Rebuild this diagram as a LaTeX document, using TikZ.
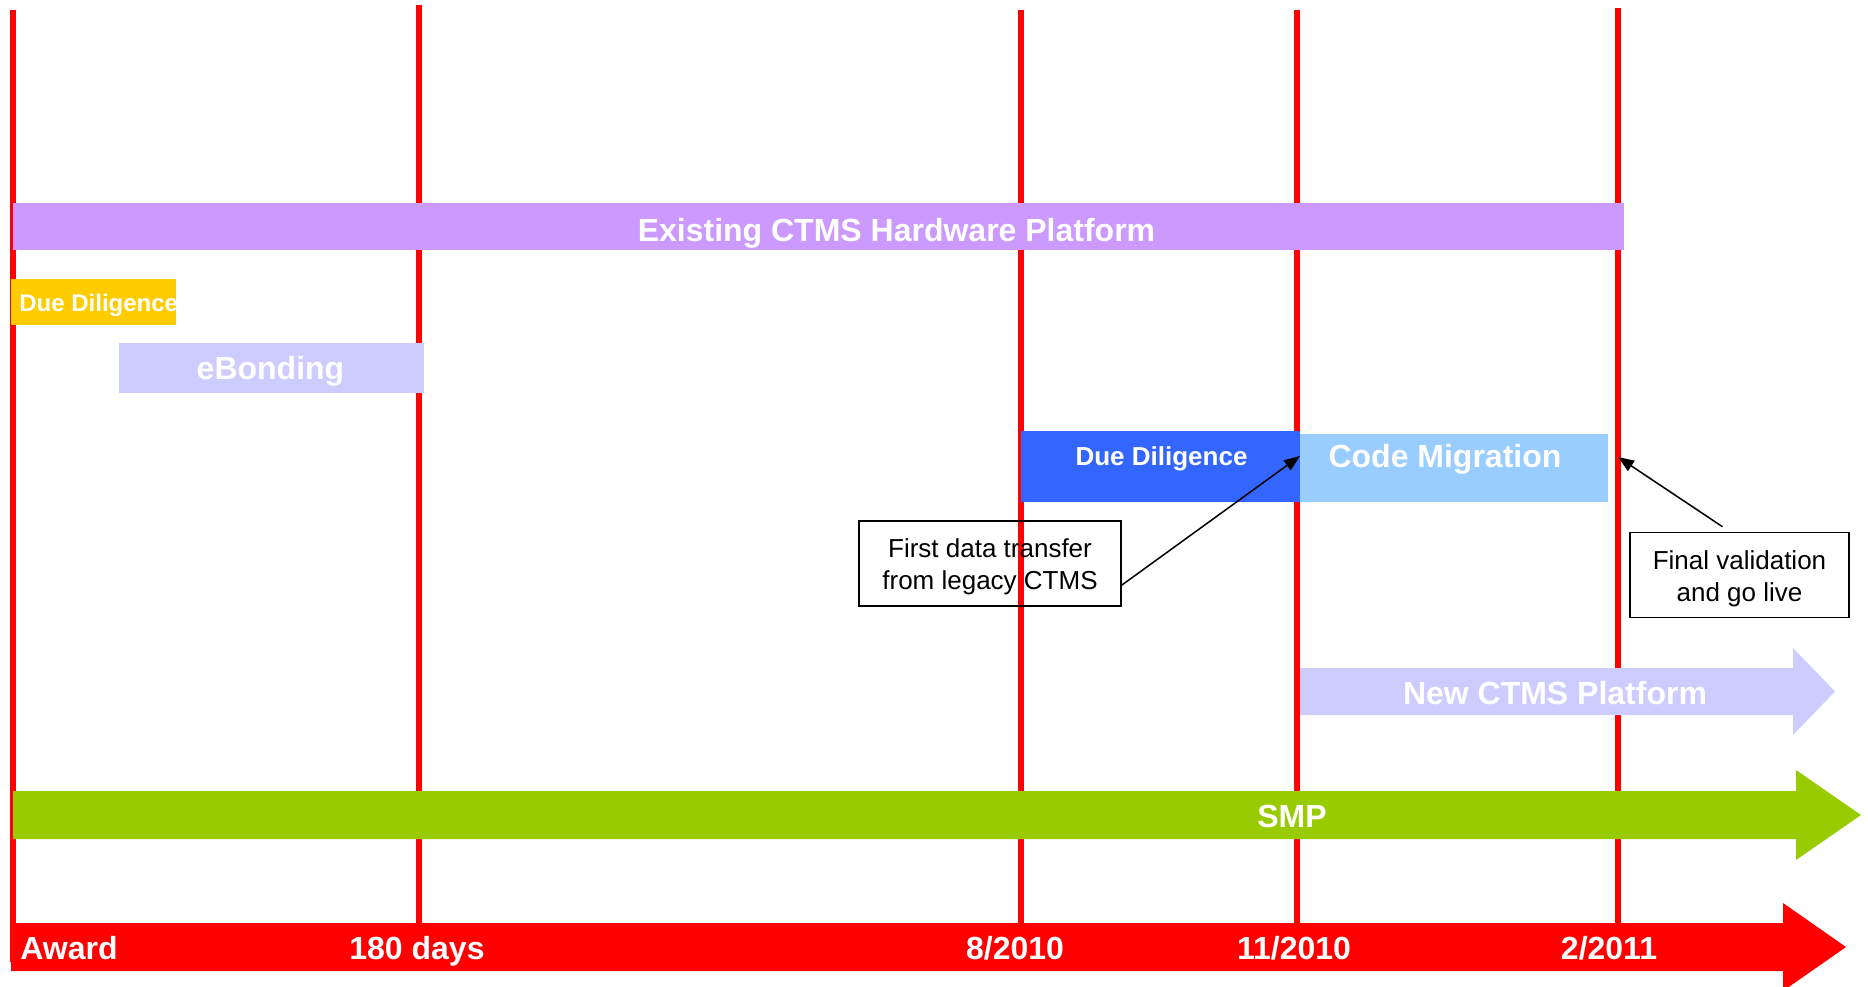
\documentclass[tikz,border=0pt]{standalone}
\usepackage{fontspec}
\setmainfont{Liberation Sans}
\usetikzlibrary{arrows.meta,calc}
\definecolor{tlred}{HTML}{FF0000}
\definecolor{hwpurple}{HTML}{CC99FF}
\definecolor{ddyellow}{HTML}{FFCC00}
\definecolor{lavender}{HTML}{CCCCFF}
\definecolor{ddblue}{HTML}{3366FF}
\definecolor{skyblue}{HTML}{99CCFF}
\definecolor{smpgreen}{HTML}{99CC00}
\begin{document}
\begin{tikzpicture}[x=0.5pt,y=-0.5pt,
  milestone/.style={draw=tlred, line width=3pt},
  barlabel/.style={text=white, font=\bfseries\fontsize{16}{19}\selectfont, inner sep=0pt, anchor=base},
  smalllabel/.style={barlabel, font=\bfseries\fontsize{13}{16}\selectfont},
  callout/.style={draw=black, line width=0.75pt, fill=none, inner sep=0pt, minimum height=42.5pt},
  callouttext/.style={align=center, font=\fontsize{13}{16}\selectfont, inner sep=0pt},
  pointer/.style={draw=black, line width=0.75pt, -{Triangle[length=8pt,width=6pt]}}]
\useasboundingbox (0,0) rectangle (1868,986);

% milestone lines
\draw[milestone] (13,10) -- (13,962);
\foreach \x/\t in {419/5, 1021/10, 1297/10, 1618/8}
  \draw[milestone] (\x,\t) -- (\x,923);

% activity bars
\fill[hwpurple] (13,203) rectangle (1624,250);
\fill[ddyellow] (11,279) rectangle (176,325);
\fill[lavender] (119,343) rectangle (424,393);
\fill[ddblue] (1021,431) rectangle (1300,502);
\fill[skyblue] (1300,434) rectangle (1608,502);

% platform arrows
\fill[lavender] (1300,668) -- (1793,668) -- (1793,648) -- (1835,691.5)
  -- (1793,735) -- (1793,715) -- (1300,715) -- cycle;
\fill[smpgreen] (13,791) -- (1796,791) -- (1796,770) -- (1861,815)
  -- (1796,860) -- (1796,839) -- (13,839) -- cycle;

% time axis
\fill[tlred] (11,923) -- (1783,923) -- (1783,903) -- (1846,947)
  -- (1783,991) -- (1783,971) -- (11,971) -- cycle;

% bar labels
\node[barlabel] (hw) at (896.5,241.5) {Existing CTMS Hardware Platform};
\node[barlabel, anchor=base west, font=\bfseries\fontsize{12}{14}\selectfont] (dd1) at (19,311) {Due Diligence};
\node[barlabel] (eb) at (270.5,379.5) {eBonding};
\node[smalllabel] (dd2) at (1161.5,465) {Due Diligence};
\node[barlabel] (cm) at (1445,467.5) {Code Migration};
\node[barlabel] (new) at (1555,704.5) {New CTMS Platform};
\node[barlabel] (smp) at (1292,827.5) {SMP};

% axis labels
\node[barlabel, anchor=base west] (award) at (20,959.5) {Award};
\node[barlabel] (d180) at (417,959.5) {180 days};
\node[barlabel] (aug10) at (1015,959.5) {8/2010};
\node[barlabel] (nov10) at (1294,959.5) {11/2010};
\node[barlabel] (feb11) at (1609,959.5) {2/2011};

% callouts
\node[callout, minimum width=131pt] (first) at (990,563.5) {};
\node[callouttext] (firsttxt) at ([yshift=-1.8pt]first.center) {First data transfer\\from legacy CTMS};
\node[callout, minimum width=109.5pt] (final) at (1739.5,575) {};
\node[callouttext] (finaltxt) at ([yshift=-1.8pt]final.center) {Final validation\\and go live};
\coordinate (cmstart) at (1300,456);
\coordinate (golive) at (1618,457);
\draw[pointer] ($(first.south east)!0.25!(first.north east)$) -- (cmstart);
\draw[pointer] ($(final.north)+(-17,-5)$) -- (golive);
\end{tikzpicture}
\end{document}
